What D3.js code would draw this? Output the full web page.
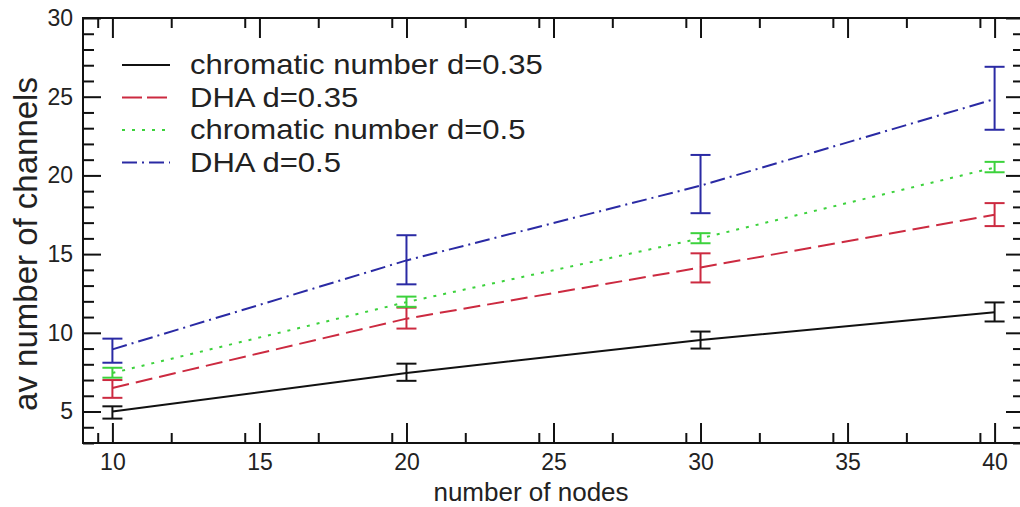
<!DOCTYPE html>
<html lang="en">
<head>
    <meta charset="UTF-8">
    <title>av number of channels</title>
    <script src="https://d3js.org/d3.v7.min.js"></script>
    <style>
        body { margin: 0; background: #fff; }
        svg { display: block; font-family: "Liberation Sans", Arial, sans-serif; }
        .tick text { font-size: 23px; fill: #222; }
        .tick line { stroke: #111; stroke-width: 2px; }
    </style>
</head>
<body>
    <svg width="1020" height="507"></svg>

    <script>
        // data
        const nodes = [10, 20, 30, 40];

        const chrom035Mean = [5.0, 7.45, 9.55, 11.3];
        const chrom035Low  = [4.55, 6.95, 9.0, 10.72];
        const chrom035High = [5.33, 8.04, 10.08, 11.93];

        const dha035Mean = [6.5, 10.9, 14.15, 17.5];
        const dha035Low  = [5.87, 10.27, 13.2, 16.78];
        const dha035High = [7.0, 11.6, 15.05, 18.24];

        const chrom05Mean = [7.45, 11.95, 16.0, 20.5];
        const chrom05Low  = [7.15, 11.65, 15.69, 20.2];
        const chrom05High = [7.78, 12.3, 16.33, 20.86];

        const dha05Mean = [8.95, 14.6, 19.35, 24.85];
        const dha05Low  = [8.1, 13.08, 17.6, 22.9];
        const dha05High = [9.63, 16.2, 21.3, 26.9];

        const seriesNames = ["chromatic number d=0.35", "DHA d=0.35", "chromatic number d=0.5", "DHA d=0.5"];
        const xTicks = [10, 15, 20, 25, 30, 35, 40];
        const yTicks = [5, 10, 15, 20, 25, 30];

        const series = [
            { name: seriesNames[0], mean: chrom035Mean, lo: chrom035Low, hi: chrom035High, color: "#111", dash: null },
            { name: seriesNames[1], mean: dha035Mean, lo: dha035Low, hi: dha035High, color: "#cc2a40", dash: "17,7" },
            { name: seriesNames[2], mean: chrom05Mean, lo: chrom05Low, hi: chrom05High, color: "#3cd23c", dash: "3,7" },
            { name: seriesNames[3], mean: dha05Mean, lo: dha05Low, hi: dha05High, color: "#2a2aa4", dash: "15,5,2,5" }
        ];

        const svg = d3.select("svg");
        const margin = { top: 18, left: 83, bottom: 64, right: -4 };
        const W = 1020 - margin.left - margin.right;
        const H = 507 - margin.top - margin.bottom;

        const g = svg.append("g").attr("transform", `translate(${margin.left},${margin.top})`);

        const x = d3.scaleLinear().domain([9, 41]).range([0, W]);
        const y = d3.scaleLinear().domain([3, 30]).range([H, 0]);

        const minorX = d3.range(9.5, 41, 2.5).filter(v => !xTicks.includes(v));
        const minorY = d3.range(3, 31, 1).filter(v => !yTicks.includes(v));

        // minor ticks
        g.append("g").attr("transform", `translate(0,${H})`)
            .call(d3.axisBottom(x).tickValues(minorX).tickSize(-10).tickFormat(""));
        g.append("g")
            .call(d3.axisTop(x).tickValues(minorX).tickSize(-10).tickFormat(""));
        g.append("g")
            .call(d3.axisLeft(y).tickValues(minorY).tickSize(-11).tickFormat(""));
        g.append("g").attr("transform", `translate(${W},0)`)
            .call(d3.axisRight(y).tickValues(minorY).tickSize(-11).tickFormat(""));

        // major ticks
        g.append("g").attr("transform", `translate(0,${H})`)
            .call(d3.axisBottom(x).tickValues(xTicks).tickSize(-20).tickPadding(11).tickFormat(d3.format("d")));
        g.append("g")
            .call(d3.axisTop(x).tickValues(xTicks).tickSize(-20).tickFormat(""));
        g.append("g")
            .call(d3.axisLeft(y).tickValues(yTicks).tickSize(-18).tickPadding(10).tickFormat(d3.format("d")));
        g.append("g").attr("transform", `translate(${W},0)`)
            .call(d3.axisRight(y).tickValues(yTicks).tickSize(-18).tickFormat(""));

        g.selectAll(".domain").remove();

        g.append("rect")
            .attr("width", W).attr("height", H)
            .attr("fill", "none").attr("stroke", "#111").attr("stroke-width", 2);

        // lines
        const line = d3.line().x((d, i) => x(nodes[i])).y(d => y(d));
        series.forEach(s => {
            g.append("path")
                .datum(s.mean)
                .attr("d", line)
                .attr("fill", "none")
                .attr("stroke", s.color)
                .attr("stroke-width", 2)
                .attr("stroke-dasharray", s.dash);
        });

        // error bars
        series.forEach(s => {
            const eb = g.append("g").attr("stroke", s.color).attr("stroke-width", 2);
            nodes.forEach((n, i) => {
                eb.append("line").attr("x1", x(n)).attr("x2", x(n)).attr("y1", y(s.lo[i])).attr("y2", y(s.hi[i]));
                eb.append("line").attr("x1", x(n) - 10).attr("x2", x(n) + 10).attr("y1", y(s.lo[i])).attr("y2", y(s.lo[i]));
                eb.append("line").attr("x1", x(n) - 10).attr("x2", x(n) + 10).attr("y1", y(s.hi[i])).attr("y2", y(s.hi[i]));
            });
        });

        // legend
        const legend = svg.append("g").attr("transform", "translate(122,65)");
        series.forEach((s, i) => {
            const row = legend.append("g").attr("transform", `translate(0,${i * 32.5})`);
            row.append("line")
                .attr("x1", 0).attr("x2", 48).attr("y1", 0).attr("y2", 0)
                .attr("stroke", s.color).attr("stroke-width", 2)
                .attr("stroke-dasharray", s.dash === "17,7" ? "20,5" : s.dash);
            row.append("text")
                .attr("transform", "translate(68,9) scale(1.15,1)")
                .attr("font-size", 27)
                .attr("fill", "#222")
                .text(s.name);
        });

        // axis titles
        svg.append("text")
            .attr("x", 531).attr("y", 501)
            .attr("text-anchor", "middle")
            .attr("font-size", 26).attr("fill", "#222")
            .text("number of nodes");

        svg.append("text")
            .attr("transform", "translate(37,244) rotate(-90)")
            .attr("text-anchor", "middle")
            .attr("font-size", 33).attr("fill", "#222")
            .text("av number of channels");
    </script>
</body>
</html>
